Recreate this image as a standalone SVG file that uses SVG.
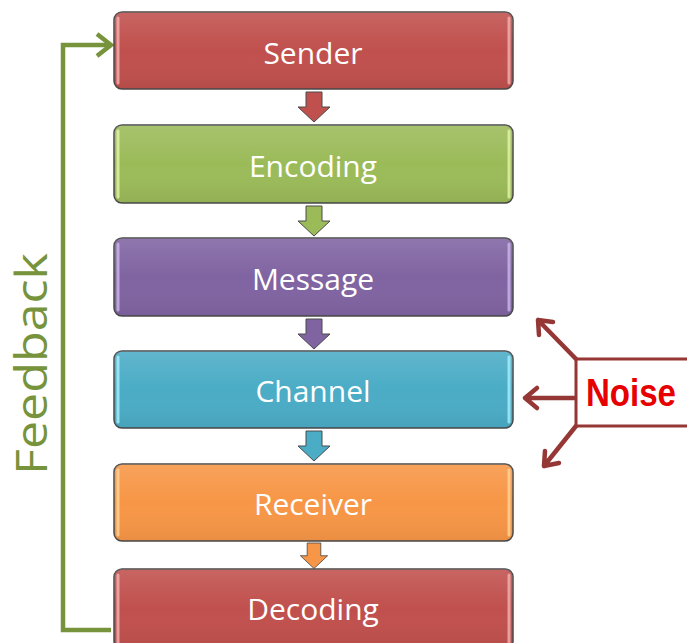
<svg xmlns="http://www.w3.org/2000/svg" width="687" height="643" viewBox="0 0 687 643">
<style>
.box{stroke:#4a4a4a;stroke-width:1.5}
.lbl{font-family:"Open Sans","Liberation Sans",sans-serif;font-size:30px;fill:#ffffff;text-anchor:middle}
.hl{stroke-width:3;stroke-linecap:round;fill:none;opacity:0.8}
.dn{stroke:#4a4a4a;stroke-width:1}
.fb{fill:none;stroke:#77933C;stroke-width:4.5;stroke-linejoin:miter}
.nz{fill:none;stroke:#953735;stroke-width:4.5;stroke-linecap:round;stroke-linejoin:round}
</style>
<defs>
<path id="darr" d="M-8,0 H8 V15 H16 L0,30 L-16,15 H-8 Z"/>
<linearGradient id="gloss" x1="0" y1="0" x2="0" y2="1">
<stop offset="0" stop-color="#ffffff" stop-opacity="0.12"/>
<stop offset="0.5" stop-color="#ffffff" stop-opacity="0"/>
<stop offset="1" stop-color="#000000" stop-opacity="0.06"/>
</linearGradient>
</defs>
<rect width="687" height="643" fill="#ffffff"/>

<g id="connectors">
<use href="#darr" x="314" y="92" fill="#C0504D" class="dn"/>
<use href="#darr" x="314" y="206" fill="#9BBB59" class="dn"/>
<use href="#darr" x="314" y="319" fill="#8064A2" class="dn"/>
<use href="#darr" x="314" y="431" fill="#4BACC6" class="dn"/>
<g transform="translate(314,543) scale(0.85)"><use href="#darr" fill="#F79646" class="dn"/></g>
<path class="fb" d="M111,630 H63 V45 H110"/>
<path class="fb" d="M97,34 L111,45 L97,56"/>
<path class="nz" d="M576,359 L538,320 M538,320 L553,322 M538,320 L539,335"/>
<path class="nz" d="M576,398 L525,398 M525,398 L537,388 M525,398 L537,408"/>
<path class="nz" d="M576,426 L544,466 M544,466 L545,451 M544,466 L559,463"/>
</g>

<g id="sender">
<rect class="box" x="114" y="12" width="399" height="77" rx="8" fill="#C0504D"/>
<rect x="114" y="12" width="399" height="77" rx="8" fill="url(#gloss)"/>
<path class="hl" stroke="#f2b4b3" d="M118,18 V83 M509,18 V83"/>
<text class="lbl" x="313" y="64">Sender</text>
</g>
<g id="encoding">
<rect class="box" x="114" y="125" width="399" height="78" rx="8" fill="#9BBB59"/>
<rect x="114" y="125" width="399" height="78" rx="8" fill="url(#gloss)"/>
<path class="hl" stroke="#e4f5a8" d="M118,131 V197 M509,131 V197"/>
<text class="lbl" x="313" y="177">Encoding</text>
</g>
<g id="message">
<rect class="box" x="114" y="238" width="399" height="78" rx="8" fill="#8064A2"/>
<rect x="114" y="238" width="399" height="78" rx="8" fill="url(#gloss)"/>
<path class="hl" stroke="#cdb8ea" d="M118,244 V310 M509,244 V310"/>
<text class="lbl" x="313" y="290">Message</text>
</g>
<g id="channel">
<rect class="box" x="114" y="351" width="399" height="77" rx="8" fill="#4BACC6"/>
<rect x="114" y="351" width="399" height="77" rx="8" fill="url(#gloss)"/>
<path class="hl" stroke="#a9f0fb" d="M118,357 V422 M509,357 V422"/>
<text class="lbl" x="313" y="402">Channel</text>
</g>
<g id="receiver">
<rect class="box" x="114" y="464" width="399" height="77" rx="8" fill="#F79646"/>
<rect x="114" y="464" width="399" height="77" rx="8" fill="url(#gloss)"/>
<path class="hl" stroke="#ffd49a" d="M118,470 V535 M509,470 V535"/>
<text class="lbl" x="313" y="515">Receiver</text>
</g>
<g id="decoding">
<rect class="box" x="114" y="569" width="399" height="80" rx="8" fill="#C0504D"/>
<rect x="114" y="569" width="399" height="80" rx="8" fill="url(#gloss)"/>
<path class="hl" stroke="#f2b4b3" d="M118,575 V643 M509,575 V643"/>
<text class="lbl" x="313" y="620">Decoding</text>
</g>

<g id="feedback">
<text transform="translate(47,364) rotate(-90)" x="0" y="0" text-anchor="middle" font-family="'Open Sans','Liberation Sans',sans-serif" font-size="44" fill="#77933C" textLength="222" lengthAdjust="spacingAndGlyphs">Feedback</text>
</g>

<g id="noise">
<rect x="576" y="359" width="120" height="67" fill="#ffffff" stroke="#953735" stroke-width="3"/>
<text x="586" y="406" font-family="'Liberation Sans',Arial,sans-serif" font-weight="bold" font-size="38" fill="#E60000" textLength="90" lengthAdjust="spacingAndGlyphs">Noise</text>
</g>
</svg>
